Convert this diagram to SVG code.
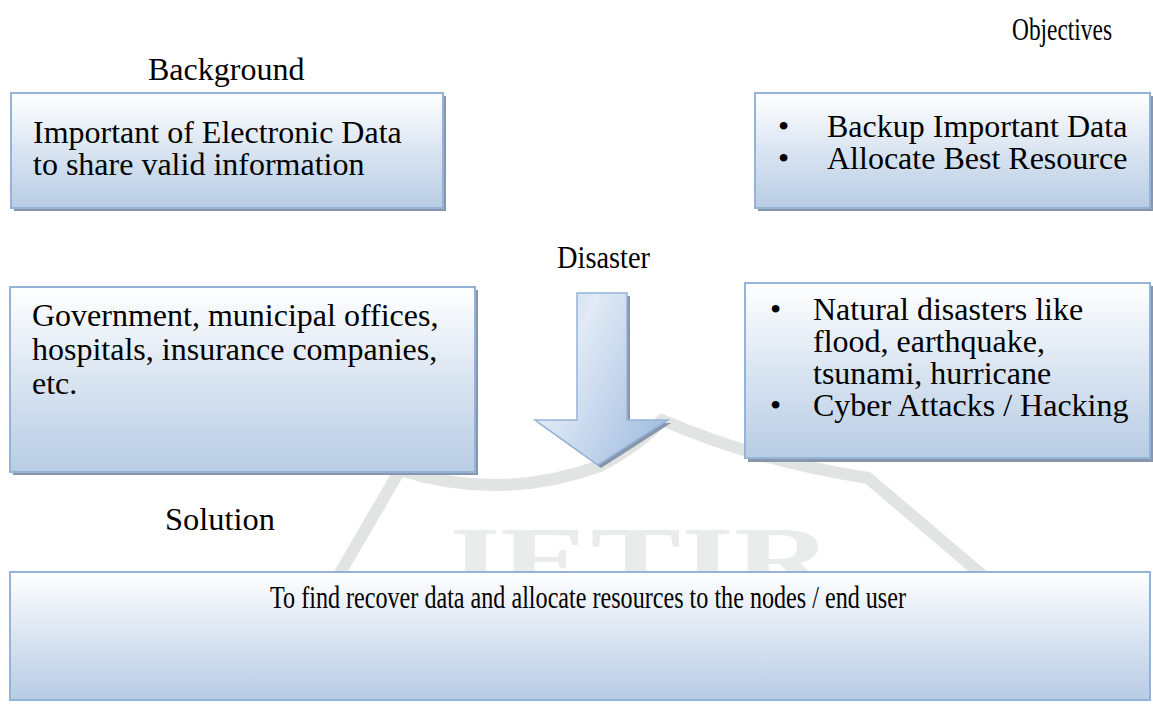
<svg xmlns="http://www.w3.org/2000/svg" width="1153" height="711" viewBox="0 0 1153 711">
<defs>
<linearGradient id="boxFill" x1="0" y1="0" x2="0" y2="1">
<stop offset="0" stop-color="#ffffff"/>
<stop offset="0.55" stop-color="#d6e2f0"/>
<stop offset="1" stop-color="#b8cce4"/>
</linearGradient>
<linearGradient id="arrowFill" x1="0" y1="0" x2="1" y2="0.6">
<stop offset="0" stop-color="#c9d9ee"/>
<stop offset="0.35" stop-color="#e1eaf5"/>
<stop offset="1" stop-color="#a9c2e3"/>
</linearGradient>
<style>
.shadow{fill:#8796ab;}
.box{fill:url(#boxFill);stroke:#95b3d7;stroke-width:2;}
.t{font-family:"Liberation Serif","Times New Roman",serif;font-size:32px;fill:#000;}
.wm{fill:none;stroke:#e2e4e3;stroke-width:12;stroke-linejoin:round;}
.wmt{font-family:"Liberation Serif","Times New Roman",serif;font-size:90px;font-weight:bold;fill:#e8ecea;}
</style>
</defs>
<rect width="1153" height="711" fill="#ffffff"/>

<g id="watermark">
<path class="wm" d="M 336 580 L 400 470 Q 500 502 600 466 Q 640 445 662 420 Q 760 462 868 478 L 988 580"/>
<text class="wmt" x="432" y="590" textLength="400" lengthAdjust="spacingAndGlyphs">JETIR</text>
</g>

<g id="title-background"><text class="t" x="148" y="80">Background</text></g>
<g id="title-objectives"><text class="t" x="1012" y="40" textLength="100" lengthAdjust="spacingAndGlyphs">Objectives</text></g>
<g id="title-disaster"><text class="t" x="557" y="268" textLength="93" lengthAdjust="spacingAndGlyphs">Disaster</text></g>
<g id="title-solution"><text class="t" x="165" y="530" textLength="110" lengthAdjust="spacingAndGlyphs">Solution</text></g>

<g id="node-background">
<rect class="shadow" x="14" y="96" width="432" height="115"/>
<rect class="box" x="11" y="93" width="432" height="115"/>
<text class="t" x="33" y="143">Important of Electronic Data</text>
<text class="t" x="33" y="175">to share valid information</text>
</g>

<g id="node-objectives">
<rect class="shadow" x="758" y="96" width="395" height="115"/>
<rect class="box" x="755" y="93" width="395" height="115"/>
<text class="t" x="778" y="137">•</text>
<text class="t" x="827" y="137">Backup Important Data</text>
<text class="t" x="778" y="169">•</text>
<text class="t" x="827" y="169">Allocate Best Resource</text>
</g>

<g id="node-sectors">
<rect class="shadow" x="13" y="290" width="465" height="185"/>
<rect class="box" x="10" y="287" width="465" height="185"/>
<text class="t" x="32" y="326">Government, municipal offices,</text>
<text class="t" x="32" y="360">hospitals, insurance companies,</text>
<text class="t" x="32" y="394">etc.</text>
</g>

<g id="node-disasters">
<rect class="shadow" x="748" y="286" width="405" height="176"/>
<rect class="box" x="745" y="283" width="405" height="175"/>
<text class="t" x="770" y="320">•</text>
<text class="t" x="813" y="320">Natural disasters like</text>
<text class="t" x="813" y="352">flood, earthquake,</text>
<text class="t" x="813" y="384">tsunami, hurricane</text>
<text class="t" x="770" y="416">•</text>
<text class="t" x="813" y="416">Cyber Attacks / Hacking</text>
</g>

<g id="connectors">
<polygon points="580,296 630,296 630,423 671,423 601,468 538,423 580,423" fill="#8796ab"/>
<polygon points="577,293 627,293 627,420 668,420 598,465 535,420 577,420" fill="url(#arrowFill)" stroke="#95b3d7" stroke-width="1.5" stroke-linejoin="miter"/>
</g>

<g id="node-solution">
<rect class="box" x="10" y="572" width="1140" height="128"/>
<text class="t" x="270" y="608" textLength="636" lengthAdjust="spacingAndGlyphs">To find recover data and allocate resources to the nodes / end user</text>
</g>
</svg>
